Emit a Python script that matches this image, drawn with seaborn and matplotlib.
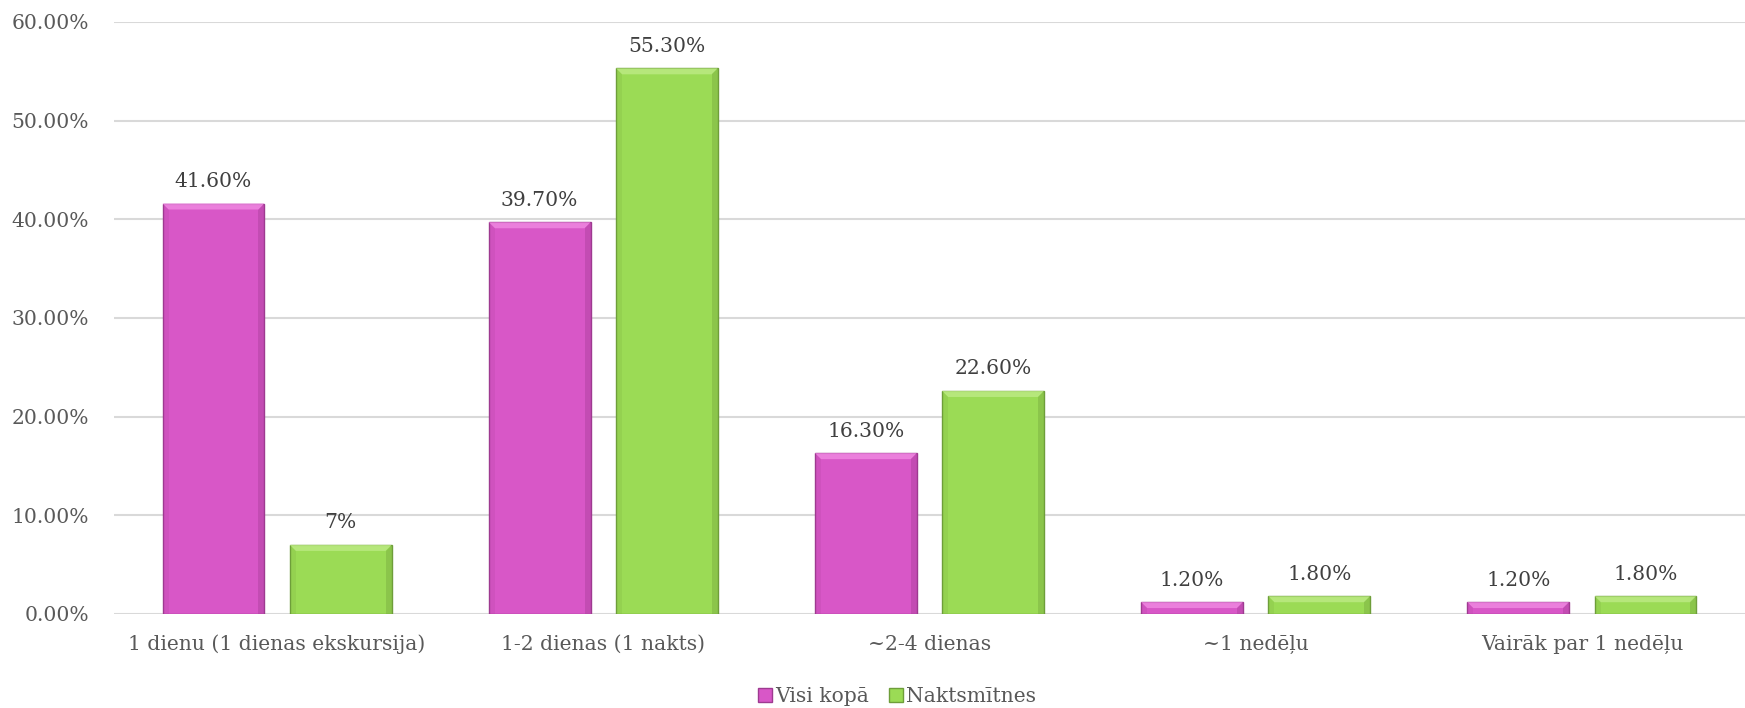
import numpy as np
import pandas as pd
import seaborn as sns
from matplotlib import pyplot as plt
import matplotlib.patches as mpatches
from matplotlib.ticker import FuncFormatter

sns.set_style('white')
plt.rcParams['font.family'] = ['DejaVu Serif', 'Liberation Serif']

# data
categories = ['1 dienu (1 dienas ekskursija)', '1-2 dienas (1 nakts)', '~2-4 dienas',
              '~1 nedēļu', 'Vairāk par 1 nedēļu']
series_names = ['Visi kopā', 'Naktsmītnes']
visi_kopa = [41.6, 39.7, 16.3, 1.2, 1.2]
naktsmitnes = [7.0, 55.3, 22.6, 1.8, 1.8]
visi_labels = ['41.60%', '39.70%', '16.30%', '1.20%', '1.20%']
nakts_labels = ['7%', '55.30%', '22.60%', '1.80%', '1.80%']
y_ticks = [0, 10, 20, 30, 40, 50, 60]

df = pd.DataFrame({
    'cat': categories * 2,
    'val': visi_kopa + naktsmitnes,
    'series': [series_names[0]] * 5 + [series_names[1]] * 5,
})

pink, green = '#D857C7', '#9BDB55'
pink_edge, green_edge = '#9E3A90', '#6E9E3A'
pink_light, green_light = '#F08AE2', '#BDEB85'
fs = 14.6

fig = plt.figure(figsize=(17.45, 7.08), dpi=100)
ax = fig.add_axes([0.0653, 0.1328, 0.9347, 0.8362])

sns.barplot(data=df, x='cat', y='val', hue='series', palette=[pink, green],
            width=0.78, gap=0.2, ax=ax, legend=False, saturation=1)

ax.set_ylim(0, 60)
ax.set_xlim(-0.5, 4.5)

# bevel size in pixels -> data units
bev = 6
bbox = ax.get_window_extent()
dx = bev * 5.0 / bbox.width
dy = bev * 60.0 / bbox.height

for container, edge, light, labels in zip(ax.containers, [pink_edge, green_edge],
                                          [pink_light, green_light],
                                          [visi_labels, nakts_labels]):
    for bar in container:
        bar.set_edgecolor(edge)
        bar.set_linewidth(1.0)
        bar.set_zorder(3)
        x, y = bar.get_x(), bar.get_y()
        w, h = bar.get_width(), bar.get_height()
        d = min(dy, h / 2)
        top = mpatches.Polygon([(x, y + h), (x + w, y + h), (x + w - dx, y + h - d),
                                (x + dx, y + h - d)], closed=True,
                               facecolor=light, edgecolor='none', zorder=4, alpha=0.8)
        right = mpatches.Polygon([(x + w, y + h), (x + w, y), (x + w - dx, y),
                                  (x + w - dx, y + h - d)], closed=True,
                                 facecolor=edge, edgecolor='none', zorder=4, alpha=0.35)
        left = mpatches.Polygon([(x, y + h), (x, y), (x + dx, y),
                                 (x + dx, y + h - d)], closed=True,
                                facecolor=edge, edgecolor='none', zorder=4, alpha=0.15)
        ax.add_patch(top)
        ax.add_patch(right)
        ax.add_patch(left)
    ax.bar_label(container, labels=labels, padding=9, fontsize=fs, color='#404040')

ax.set_yticks(y_ticks)
ax.yaxis.set_major_formatter(FuncFormatter(lambda v, p: f'{v:.2f}%'))
ax.grid(axis='y', color='#D9D9D9', linewidth=1.5, zorder=0)
ax.set_axisbelow(True)
for s in ax.spines.values():
    s.set_visible(False)
ax.tick_params(axis='both', length=0, labelsize=fs, labelcolor='#595959')
ax.tick_params(axis='x', pad=15)
ax.tick_params(axis='y', pad=18)
ax.set_xlabel('')
ax.set_ylabel('')

handles = [mpatches.Patch(facecolor=pink, edgecolor=pink_edge, label=series_names[0]),
           mpatches.Patch(facecolor=green, edgecolor=green_edge, label=series_names[1])]
fig.legend(handles=handles, loc='center', bbox_to_anchor=(0.514, 0.016), ncol=2,
           frameon=False, fontsize=fs, labelcolor='#595959', handlelength=0.7,
           handleheight=0.7, handletextpad=0.15, columnspacing=1.0)

plt.savefig('out.png', dpi=100)
plt.close()
